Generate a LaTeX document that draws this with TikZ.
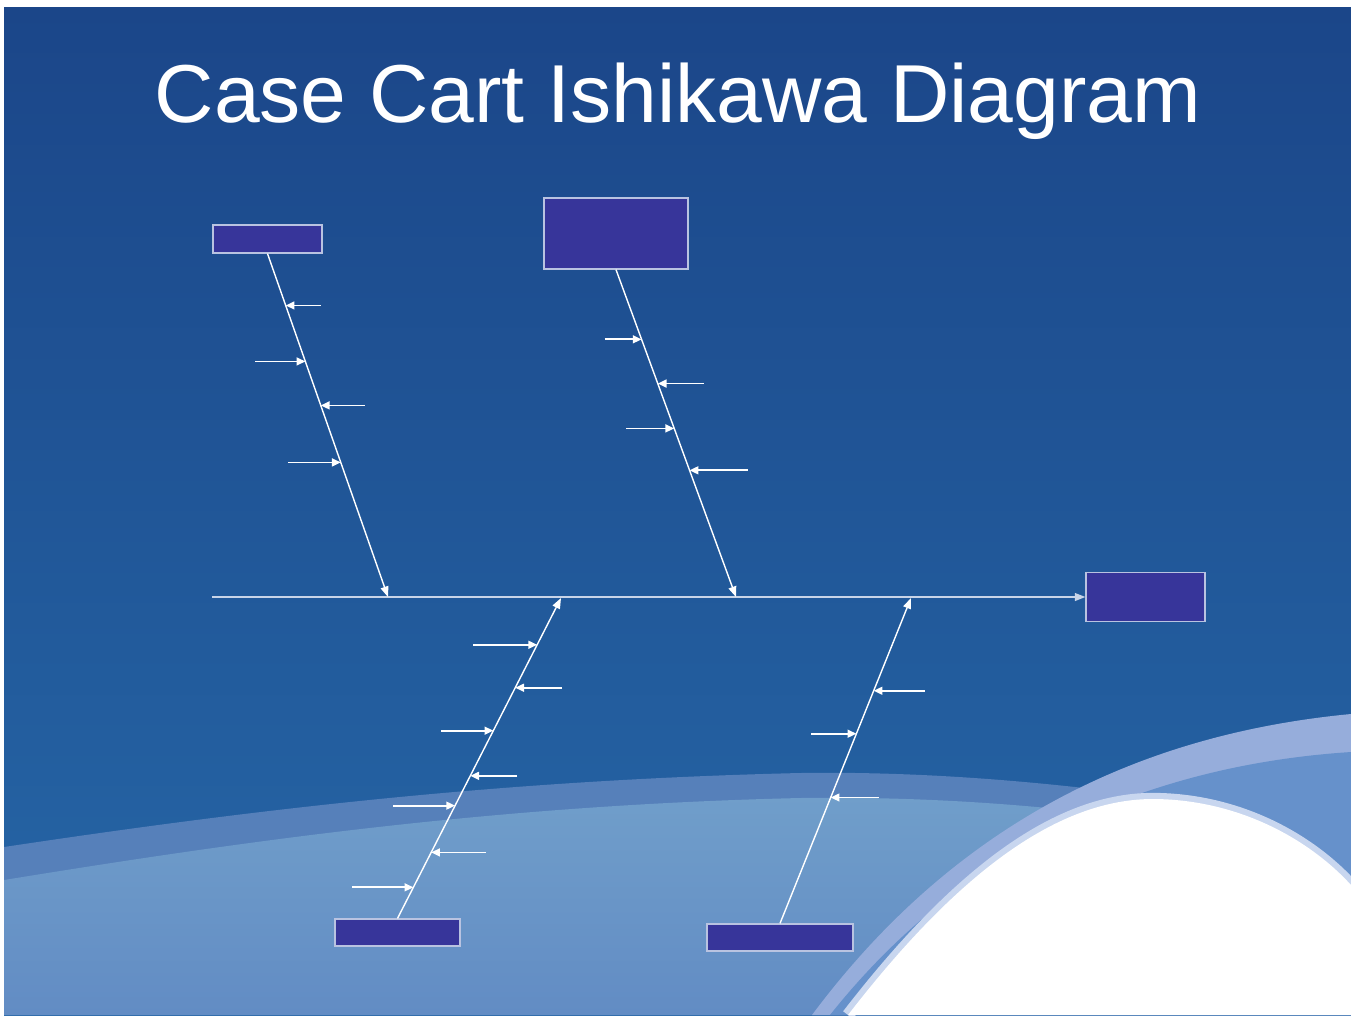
\documentclass[tikz,border=0pt]{standalone}
\usepackage{fontspec}
\setmainfont{Liberation Sans}
\usepackage{tikz}
\usetikzlibrary{arrows.meta,positioning,calc}
\definecolor{bgtop}{RGB}{27,70,137}
\definecolor{bgmid}{RGB}{35,97,163}
\definecolor{bgbot}{RGB}{38,103,167}
\definecolor{waveA}{RGB}{86,128,186}
\definecolor{waveB}{RGB}{112,158,202}
\definecolor{waveC}{RGB}{98,140,196}
\definecolor{arcband}{RGB}{150,173,219}
\definecolor{arcmid}{RGB}{102,145,203}
\definecolor{arcpale}{RGB}{200,214,239}
\definecolor{boxfill}{RGB}{55,53,154}
\definecolor{boxline}{RGB}{185,195,225}
\definecolor{spinecol}{RGB}{200,212,232}

\begin{document}
\begin{tikzpicture}[
  x=0.02cm, y=-0.02cm,
  cause/.style={draw=boxline,line width=0.7pt,fill=boxfill,inner sep=0pt},
  bone/.style={white,line width=0.8pt,-{Triangle[length=6pt,width=4.5pt]}},
  tick/.style={white,line width=1pt,-{Triangle[length=5pt,width=4.5pt]}},
]
  \useasboundingbox (0,0) rectangle (1351,1015);
  \fill[white] (0,0) rectangle (1351,1015);
  \shade[top color=bgtop,middle color=bgmid,bottom color=bgbot] (4,7) rectangle (1351,1015);

  % waves
  \fill[waveA] (4,847) .. controls (250,810) and (500,780) .. (800,773)
    .. controls (1000,770) and (1200,800) .. (1351,830) -- (1351,1015) -- (4,1015) -- cycle;
  \shade[top color=waveB,bottom color=waveC] (4,880) .. controls (250,840) and (500,805) .. (800,798)
    .. controls (1000,795) and (1200,820) .. (1351,860) -- (1351,1015) -- (4,1015) -- cycle;
  \fill[arcband] (812,1015) .. controls (950,830) and (1130,735) .. (1351,714) -- (1351,1015) -- cycle;
  \fill[arcmid] (830,1015) .. controls (965,845) and (1150,765) .. (1351,752) -- (1351,1015) -- cycle;
  \draw[arcpale,line width=7pt] (848,1015) .. controls (960,870) and (1060,798) .. (1155,799)
    .. controls (1240,800) and (1310,840) .. (1351,885);
  \fill[white] (848,1015) .. controls (960,870) and (1060,798) .. (1155,799)
    .. controls (1240,800) and (1310,840) .. (1351,885) -- (1351,1015) -- cycle;

  \node[text=white,font=\fontsize{46.8}{56}\selectfont,anchor=base] (title) at (678,122) {Case Cart Ishikawa Diagram};

  \node[cause,minimum width=2.18cm,minimum height=0.56cm] (topl) at (267.5,239) {};
  \node[cause,minimum width=2.88cm,minimum height=1.42cm] (topm) at (616,233.5) {};
  \node[cause,minimum width=2.38cm,minimum height=0.98cm] (head) at (1145.5,597) {};
  \node[cause,minimum width=2.5cm,minimum height=0.54cm] (botl) at (397.5,932.5) {};
  \node[cause,minimum width=2.92cm,minimum height=0.54cm] (botm) at (780,937.5) {};

  \coordinate (tail) at (212,597);
  \coordinate (j1) at (388,597);
  \coordinate (j2) at (736,597);
  \coordinate (j3) at (561,598);
  \coordinate (j4) at (911,598);
  \draw[spinecol,line width=0.8pt,-{Triangle[length=6pt,width=4.5pt]}] (tail) -- (head.west);

  \draw[bone] (topl.south) -- (j1);
  \draw[bone] (topm.south) -- (j2);
  \draw[bone] (botl.north) -- (j3);
  \draw[bone] (botm.north) -- (j4);

  \foreach \t/\d [count=\i] in {0.151/35,0.314/-50,0.442/44,0.608/-53}{
    \coordinate (a\i) at ($(topl.south)!\t!(j1)$);
    \coordinate (a\i s) at ($(a\i)+(\d,0)$);
    \draw[tick] (a\i s) -- (a\i);
  }
  \foreach \t/\d [count=\i] in {0.213/-37,0.348/46,0.485/-48,0.613/58}{
    \coordinate (b\i) at ($(topm.south)!\t!(j2)$);
    \coordinate (b\i s) at ($(b\i)+(\d,0)$);
    \draw[tick] (b\i s) -- (b\i);
  }
  \foreach \t/\d [count=\i] in {0.854/-64,0.720/47,0.586/-52,0.445/47,0.352/-62,0.206/55,0.097/-61}{
    \coordinate (c\i) at ($(botl.north)!\t!(j3)$);
    \coordinate (c\i s) at ($(c\i)+(\d,0)$);
    \draw[tick] (c\i s) -- (c\i);
  }
  \foreach \t/\d [count=\i] in {0.715/51,0.583/-45,0.387/48}{
    \coordinate (d\i) at ($(botm.north)!\t!(j4)$);
    \coordinate (d\i s) at ($(d\i)+(\d,0)$);
    \draw[tick] (d\i s) -- (d\i);
  }
\end{tikzpicture}
\end{document}
